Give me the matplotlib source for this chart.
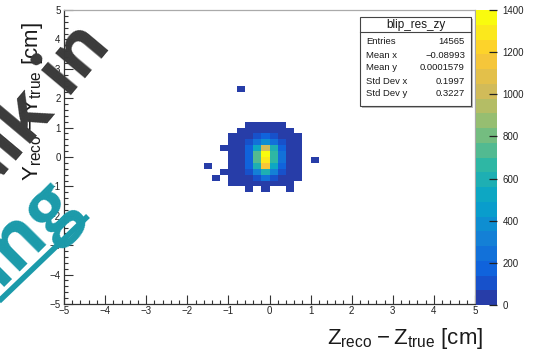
import numpy as np
import matplotlib
matplotlib.use("Agg")
import matplotlib.pyplot as plt
from matplotlib.colors import ListedColormap, BoundaryNorm, LinearSegmentedColormap
from matplotlib.ticker import MultipleLocator
from matplotlib.patches import Rectangle
from matplotlib.lines import Line2D

plt.rcParams['font.family'] = ['Liberation Sans', 'DejaVu Sans']
plt.rcParams['mathtext.default'] = 'regular'

# ---- histogram binning: 50 x 50 bins over [-5, 5] cm ----
n_bins = 50
axis_range = (-5.0, 5.0)

# populated window of the histogram: x bins starting at -1.6 cm,
# rows listed from y = [1.0, 1.2] down to y = [-1.2, -1.0]
window_x_start = -1.6
window_y_top = 1.0
window_counts = [
    # -1.6 -1.4 -1.2 -1.0 -0.8 -0.6 -0.4  -0.2   0.0  0.2  0.4  0.6  0.8  1.0
    [0, 0, 0, 0, 0, 4, 10, 14, 9, 4, 0, 0, 0, 0],
    [0, 0, 0, 0, 3, 10, 28, 40, 28, 10, 3, 0, 0, 0],
    [0, 0, 0, 2, 6, 25, 80, 150, 90, 25, 6, 2, 0, 0],
    [0, 0, 0, 3, 15, 70, 260, 400, 260, 70, 15, 4, 0, 0],
    [0, 0, 1, 5, 30, 150, 500, 1000, 560, 160, 40, 8, 0, 0],
    [0, 0, 0, 6, 40, 190, 720, 1400, 680, 220, 50, 10, 0, 0],
    [0, 0, 0, 6, 38, 180, 700, 1320, 660, 210, 48, 9, 0, 1],
    [1, 0, 0, 5, 30, 140, 580, 1160, 520, 150, 35, 7, 0, 0],
    [0, 0, 1, 3, 15, 80, 330, 600, 300, 80, 18, 4, 0, 0],
    [0, 1, 0, 2, 8, 30, 120, 250, 110, 30, 8, 2, 0, 0],
    [0, 0, 0, 1, 3, 10, 35, 60, 35, 10, 3, 0, 0, 0],
    [0, 0, 0, 0, 0, 2, 0, 5, 0, 0, 1, 0, 0, 0],
]
# isolated entry far above the core
stray_x = -0.8
stray_y = 2.2
stray_count = 1

z_max = 1400
z_levels = 20
cbar_ticks = [0, 200, 400, 600, 800, 1000, 1200, 1400]

hist_name = "blip_res_zy"
stat_labels = ["Entries", "Mean x", "Mean y", "Std Dev x", "Std Dev y"]
stat_values = ["14565", "\u22120.08993", "0.0001579", "0.1997", "0.3227"]

# ---- fill the histogram array ----
edges = np.linspace(axis_range[0], axis_range[1], n_bins + 1)
bw = (axis_range[1] - axis_range[0]) / n_bins
H = np.zeros((n_bins, n_bins))  # [iy, ix]
ix0 = int(round((window_x_start - axis_range[0]) / bw))
iy_top = int(round((window_y_top - axis_range[0]) / bw))
for r, row in enumerate(window_counts):
    for c, v in enumerate(row):
        H[iy_top - r, ix0 + c] += v
H[int(round((stray_y - axis_range[0]) / bw)), int(round((stray_x - axis_range[0]) / bw))] += stray_count
Hm = np.ma.masked_where(H <= 0, H)

# ---- ROOT kBird palette, sampled at the contour levels ----
stops = [0.0, 0.125, 0.25, 0.375, 0.5, 0.625, 0.75, 0.875, 1.0]
red = [0.2082, 0.0592, 0.0780, 0.0232, 0.1802, 0.5301, 0.8186, 0.9956, 0.9764]
green = [0.1664, 0.3599, 0.5041, 0.6419, 0.7178, 0.7492, 0.7328, 0.7862, 0.9832]
blue = [0.5293, 0.8684, 0.8385, 0.7914, 0.6425, 0.4662, 0.3499, 0.1968, 0.0539]
bird = LinearSegmentedColormap.from_list(
    "bird", list(zip(stops, zip(red, green, blue))), N=255)
cmap = ListedColormap([bird(min((i + 0.99) / z_levels, 1.0)) for i in range(z_levels)])
norm = BoundaryNorm(np.linspace(0, z_max, z_levels + 1), z_levels)

# ---- figure ----
W, Hpx = 533, 353
fig = plt.figure(figsize=(W / 100, Hpx / 100), dpi=100)
fig.patch.set_facecolor("white")


def fx(px):
    return px / W


def fy(py):
    return 1 - py / Hpx


ax = fig.add_axes([fx(64), fy(304), fx(411), 294 / Hpx])
ax.pcolormesh(edges, edges, Hm, cmap=cmap, norm=norm, shading="flat")
ax.set_xlim(axis_range)
ax.set_ylim(axis_range)

tick_col = "#333333"
ax.xaxis.set_major_locator(MultipleLocator(1))
ax.yaxis.set_major_locator(MultipleLocator(1))
ax.xaxis.set_minor_locator(MultipleLocator(0.2))
ax.yaxis.set_minor_locator(MultipleLocator(0.2))
ax.tick_params(which="both", direction="in", top=False, right=False,
               color=tick_col, labelcolor="#222222", labelsize=7, width=0.8)
ax.tick_params(which="major", length=6.5)
ax.tick_params(which="minor", length=3.2)
ax.tick_params(axis="x", pad=1.5)
ax.tick_params(axis="y", pad=2.5)
for side in ["left", "bottom"]:
    ax.spines[side].set_color("#333333")
    ax.spines[side].set_linewidth(0.9)
for side in ["top", "right"]:
    ax.spines[side].set_color("#aaaaaa")
    ax.spines[side].set_linewidth(0.9)

# axis titles
fig.text(fx(483), fy(344), r"$Z_{reco} - Z_{true}$ [cm]", ha="right",
         va="baseline", fontsize=16, color="#1a1a1a")
fig.text(fx(38), fy(22), r"$Y_{reco} - Y_{true}$ [cm]", ha="right",
         va="baseline", rotation=90, rotation_mode="anchor",
         fontsize=16, color="#1a1a1a")

# ---- colour scale ----
cax = fig.add_axes([fx(476), fy(305), fx(21), 295 / Hpx])
cb = fig.colorbar(plt.cm.ScalarMappable(norm=norm, cmap=cmap), cax=cax,
                  ticks=cbar_ticks)
cb.outline.set_visible(False)
cax.tick_params(direction="in", length=6, width=0.9, color="#222222",
                labelsize=7, labelcolor="#222222", pad=4)
cax.minorticks_off()

# ---- statistics box ----
bx0, by0, bx1, by1 = 360, 17, 471, 106
fig.add_artist(Rectangle((fx(bx0 + 1.5), fy(by1 + 1.5)), fx(bx1 - bx0), (by1 - by0) / Hpx,
                         transform=fig.transFigure, facecolor="#bbbbbb",
                         edgecolor="none", zorder=4))
fig.add_artist(Rectangle((fx(bx0), fy(by1)), fx(bx1 - bx0), (by1 - by0) / Hpx,
                         transform=fig.transFigure, facecolor="white",
                         edgecolor="#444444", linewidth=0.8, zorder=5))
fig.add_artist(Line2D([fx(bx0), fx(bx1)], [fy(32), fy(32)],
                      transform=fig.transFigure, color="#444444",
                      linewidth=0.8, zorder=6))
fig.text(fx((bx0 + bx1) / 2), fy(25), hist_name, ha="center", va="center",
         fontsize=8.5, color="#1a1a1a", zorder=7)
row_y = [42, 55, 68, 81, 94]
for yy, lab, val in zip(row_y, stat_labels, stat_values):
    fig.text(fx(366), fy(yy), lab, ha="left", va="center", fontsize=6.8,
             color="#1a1a1a", zorder=7)
    fig.text(fx(465), fy(yy), val, ha="right", va="center", fontsize=6.8,
             color="#1a1a1a", zorder=7)

# ---- overlaid caption lettering ----
fig.text(fx(112), fy(46), "alk in", ha="right", va="baseline", rotation=50,
         rotation_mode="anchor", fontsize=52, fontweight="bold",
         family=["Open Sans", "DejaVu Sans"], color="#3a3a3a", zorder=10)
fig.text(fx(80), fy(206), "ing", ha="right", va="baseline", rotation=45,
         rotation_mode="anchor", fontsize=54, fontweight="bold",
         family=["Open Sans", "DejaVu Sans"], color="#1b9aaa", zorder=10)
fig.add_artist(Line2D([fx(-5), fx(88)], [fy(305), fy(216)],
                      transform=fig.transFigure, color="#1b9aaa",
                      linewidth=4, solid_capstyle="butt", zorder=10))

fig.savefig("out.png", dpi=100)
